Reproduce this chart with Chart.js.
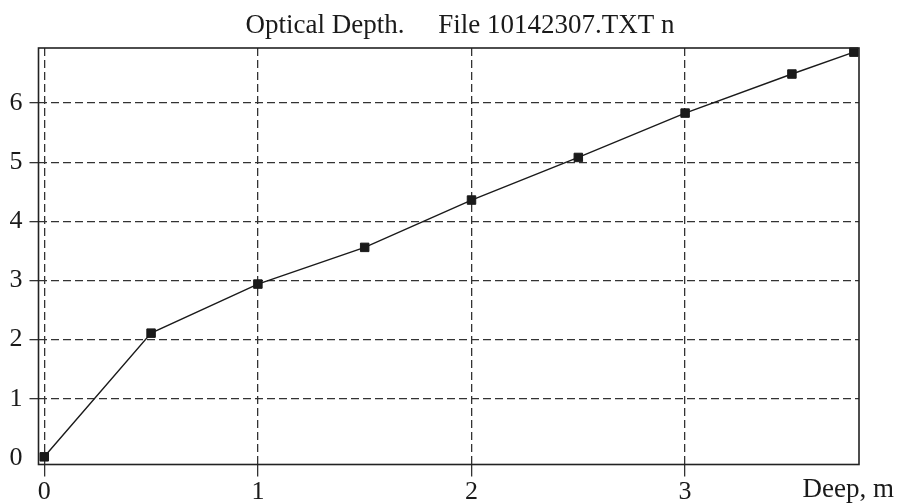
<!DOCTYPE html>
<html>
<head>
<meta charset="utf-8">
<script src="https://cdn.jsdelivr.net/npm/chart.js@4"></script>
<style>
  html, body { margin: 0; padding: 0; background: #fff; }
  #wrap { width: 899px; height: 504px; }
</style>
</head>
<body>
<div id="wrap"><canvas id="depthChart" width="899" height="504"></canvas></div>
<script>
// depth (m) and optical depth readings
const depth = [0, 0.5, 1, 1.5, 2, 2.5, 3, 3.5, 3.79];
const tau = [0.02, 2.11, 2.94, 3.56, 4.36, 5.08, 5.83, 6.49, 6.86];

const xTicks = [0, 1, 2, 3];
const yTicks = [0, 1, 2, 3, 4, 5, 6];

const titleText = 'Optical Depth.     File 10142307.TXT n';
const xAxisText = 'Deep, m';

const serif = "'Liberation Serif', 'Times New Roman', serif";
const gridColor = '#333';

// frame around the plot, title and the axis caption at the right
const framePlugin = {
  id: 'frame',
  afterDraw(chart) {
    const { ctx, chartArea: a } = chart;
    ctx.save();
    ctx.strokeStyle = '#222';
    ctx.lineWidth = 1.6;
    ctx.strokeRect(a.left, a.top, a.right - a.left, a.bottom - a.top);

    ctx.fillStyle = '#1a1a1a';
    ctx.font = '27px ' + serif;
    ctx.textAlign = 'center';
    ctx.textBaseline = 'alphabetic';
    ctx.fillText(titleText, 460, 33);

    ctx.font = '27px ' + serif;
    ctx.textAlign = 'right';
    ctx.fillText(xAxisText, 894, 497);
    ctx.restore();
  }
};

const points = depth.map((d, i) => ({ x: d, y: tau[i] }));

new Chart(document.getElementById('depthChart'), {
  type: 'scatter',
  data: {
    datasets: [{
      data: points,
      showLine: true,
      borderColor: '#1a1a1a',
      borderWidth: 1.4,
      pointStyle: 'rect',
      pointRadius: 6,
      pointBorderWidth: 1,
      pointBackgroundColor: '#1a1a1a',
      pointBorderColor: '#1a1a1a',
      clip: false
    }]
  },
  options: {
    responsive: false,
    animation: false,
    devicePixelRatio: 1,
    layout: { padding: { top: 48, right: 40, left: 0, bottom: 0 } },
    plugins: {
      legend: { display: false },
      title: { display: false },
      tooltip: { enabled: false }
    },
    scales: {
      x: {
        type: 'linear',
        min: -0.027,
        max: 3.814,
        afterBuildTicks: s => { s.ticks = xTicks.map(v => ({ value: v })); },
        afterFit: s => { s.height = 39.5; },
        border: { display: false, dash: [8, 4] },
        grid: { color: gridColor, lineWidth: 1.3, tickLength: 12 },
        ticks: {
          color: '#1a1a1a',
          padding: 0,
          maxRotation: 0,
          font: { family: serif, size: 26 },
          callback: v => String(v)
        }
      },
      y: {
        type: 'linear',
        min: -0.11,
        max: 6.93,
        afterBuildTicks: s => { s.ticks = yTicks.map(v => ({ value: v })); },
        afterFit: s => { s.width = 38.5; },
        border: { display: false, dash: [8, 4] },
        grid: {
          color: c => (c.tick && c.tick.value === 0 ? 'rgba(0,0,0,0)' : gridColor),
          lineWidth: 1.3,
          tickLength: 9
        },
        ticks: {
          color: '#1a1a1a',
          padding: 7,
          font: { family: serif, size: 26 },
          callback: v => String(v)
        }
      }
    }
  },
  plugins: [framePlugin]
});
</script>
</body>
</html>
